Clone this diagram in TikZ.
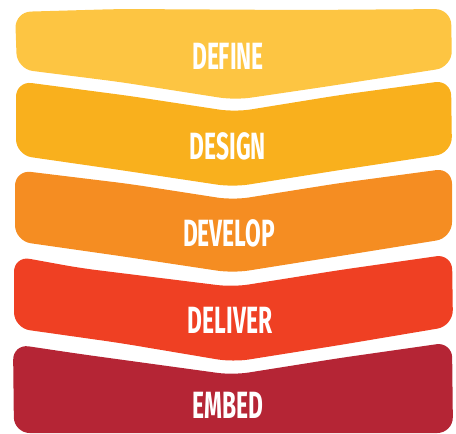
\documentclass[tikz,border=0pt]{standalone}
\usepackage{fontspec}
\newfontfamily\bandfont[FakeStretch=0.6]{Fira Sans}
\definecolor{defcol}{RGB}{253,197,66}
\definecolor{descol}{RGB}{249,176,29}
\definecolor{devcol}{RGB}{245,141,34}
\definecolor{delcol}{RGB}{239,64,35}
\definecolor{embcol}{RGB}{181,37,53}
\tikzset{
    band/.style={rounded corners=9pt},
    bandlabel/.style={text=white, font=\bandfont\bfseries\fontsize{21.6}{25}\selectfont, inner sep=0pt}
}

\begin{document}
\begin{tikzpicture}[x=0.02cm, y=-0.02cm]
        \useasboundingbox (0, 0) rectangle (456, 433);

        % define
        \fill[band, defcol] (15, 12) -- (120, 9) -- (300, 10) -- (451, 9)
            -- (452, 67) -- (330, 86) -- (235, 100) -- (120, 82) -- (17, 69) -- cycle;
        % design
        \fill[band, descol] (16, 81) -- (130, 96) -- (235, 112) -- (340, 95) -- (451, 80)
            -- (452, 153) -- (340, 170) -- (233, 187) -- (120, 170) -- (16, 155) -- cycle;
        % develop
        \fill[band, devcol] (15, 170) -- (130, 184) -- (233, 200) -- (340, 183) -- (452, 168)
            -- (452, 238) -- (340, 256) -- (233, 273) -- (120, 256) -- (15, 241) -- cycle;
        % deliver
        \fill[band, delcol] (14, 256) -- (80, 268) -- (233, 287) -- (340, 270) -- (452, 254)
            -- (453, 326) -- (340, 345) -- (233, 362) -- (120, 343) -- (14, 328) -- cycle;
        % embed
        \fill[band, embcol] (13, 344) -- (80, 354) -- (233, 375) -- (340, 358) -- (452, 342)
            -- (453, 433) -- (14, 433) -- cycle;

        \node[bandlabel] (define) at (228, 56) {DEFINE};
        \node[bandlabel] (design) at (228, 146) {DESIGN};
        \node[bandlabel] (develop) at (229, 233) {DEVELOP};
        \node[bandlabel] (deliver) at (230, 320) {DELIVER};
        \node[bandlabel] (embed) at (228, 405) {EMBED};
    \end{tikzpicture}
\end{document}
